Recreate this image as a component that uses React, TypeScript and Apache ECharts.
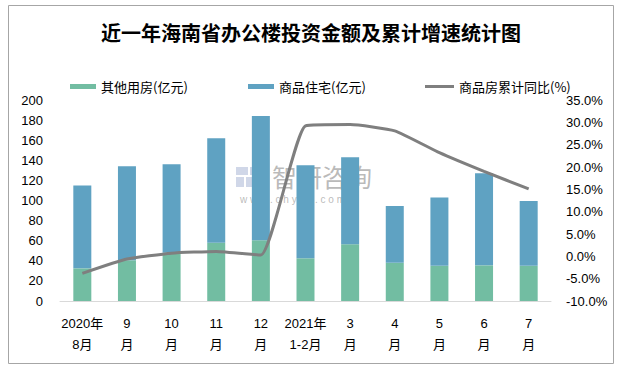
import React, { useEffect, useRef } from "react";
import * as echarts from "echarts";

const categories = ["2020年\n8月", "9\n月", "10\n月", "11\n月", "12\n月", "2021年\n1-2月", "3\n月", "4\n月", "5\n月", "6\n月", "7\n月"];
const otherValues = [32.5, 40.5, 48, 58, 60.5, 42.5, 56.5, 38, 35, 35.5, 35];
const residentialValues = [82.5, 93.5, 88, 104, 123.5, 92.5, 86.5, 56.5, 68, 91.5, 64.5];
const growthValues = [-3.8, -0.6, 0.7, 1.1, 0.3, 29.2, 29.5, 28.1, 23.2, 19.0, 15.1];
const leftTicks = { min: 0, max: 200, interval: 20 };
const rightTicks = { min: -10, max: 35, interval: 5 };

const GREEN = "#72bda2";
const BLUE = "#5fa2c2";
const GRAY = "#7f7f7f";
const FONT = "'Liberation Sans', 'Noto Sans CJK SC', sans-serif";

export default function App() {
  const ref = useRef<HTMLDivElement>(null);
  useEffect(() => {
    if (!ref.current) return;
    const chart = echarts.init(ref.current, null, { renderer: "svg" });
    const legendText = { fontSize: 13, color: "#000", fontFamily: "'Noto Sans CJK SC', sans-serif" };
    chart.setOption({
      animation: false,
      backgroundColor: "#fff",
      title: {
        text: "近一年海南省办公楼投资金额及累计增速统计图",
        left: "center",
        top: 17,
        textStyle: { fontSize: 20, fontWeight: "bold", color: "#000", fontFamily: "'Noto Sans CJK SC', serif" },
      },
      legend: [
        { data: ["其他用房(亿元)"], left: 65, top: 75, itemWidth: 26, itemHeight: 5, icon: "rect", textStyle: legendText },
        { data: ["商品住宅(亿元)"], left: 243, top: 75, itemWidth: 26, itemHeight: 5, icon: "rect", textStyle: legendText },
        { data: ["商品房累计同比(%)"], left: 420, top: 75, itemWidth: 29, itemHeight: 3, icon: "rect", textStyle: legendText },
      ],
      grid: { left: 60, right: 71, top: 100, bottom: 69 },
      xAxis: {
        type: "category",
        data: categories,
        axisLine: { lineStyle: { color: "#d9d9d9", width: 1 } },
        axisTick: { show: false },
        axisLabel: { color: "#000", fontSize: 13, fontFamily: FONT, lineHeight: 21, margin: 12, interval: 0 },
      },
      yAxis: [
        {
          type: "value",
          ...leftTicks,
          axisLine: { show: false },
          axisTick: { show: false },
          splitLine: { show: false },
          axisLabel: { color: "#000", fontSize: 13, fontFamily: FONT, margin: 17 },
        },
        {
          type: "value",
          ...rightTicks,
          axisLine: { show: false },
          axisTick: { show: false },
          splitLine: { show: false },
          axisLabel: { color: "#000", fontSize: 13, fontFamily: FONT, margin: 15, formatter: (v: number) => v.toFixed(1) + "%" },
        },
      ],
      graphic: [
        { type: "rect", z: 0, shape: { x: 8.5, y: 5.5, width: 605, height: 358 }, style: { fill: "none", stroke: "#a6a6a6", lineWidth: 1 } },
        { type: "rect", z: 0, shape: { x: 236, y: 167, width: 12, height: 8 }, style: { fill: "rgba(120,140,190,0.35)" } },
        { type: "rect", z: 0, shape: { x: 250, y: 167, width: 16, height: 8 }, style: { fill: "rgba(120,140,190,0.35)" } },
        { type: "rect", z: 0, shape: { x: 236, y: 177, width: 8, height: 10 }, style: { fill: "rgba(120,140,190,0.35)" } },
        { type: "rect", z: 0, shape: { x: 246, y: 177, width: 20, height: 10 }, style: { fill: "rgba(120,140,190,0.35)" } },
        { type: "text", z: 0, x: 272, y: 176, style: { text: "智研咨询", font: "25px 'Noto Sans CJK SC'", fill: "rgba(140,140,140,0.6)", textVerticalAlign: "middle" } },
        { type: "text", z: 0, x: 240, y: 199, style: { text: "w w w . c h y x x . c o m", font: "10px 'Liberation Sans'", fill: "rgba(140,140,140,0.6)", textVerticalAlign: "middle" } },
      ],
      series: [
        { name: "其他用房(亿元)", type: "bar", stack: "total", data: otherValues, barWidth: 18, itemStyle: { color: GREEN }, z: 2 },
        { name: "商品住宅(亿元)", type: "bar", stack: "total", data: residentialValues, barWidth: 18, itemStyle: { color: BLUE }, z: 2 },
        {
          name: "商品房累计同比(%)",
          type: "line",
          yAxisIndex: 1,
          data: growthValues,
          smooth: 0.15,
          symbol: "none",
          lineStyle: { color: GRAY, width: 3 },
          itemStyle: { color: GRAY },
          z: 3,
        },
      ],
    });
    return () => chart.dispose();
  }, []);
  return <div ref={ref} style={{ position: "fixed", left: 0, top: 0, width: 622, height: 370 }} />;
}
